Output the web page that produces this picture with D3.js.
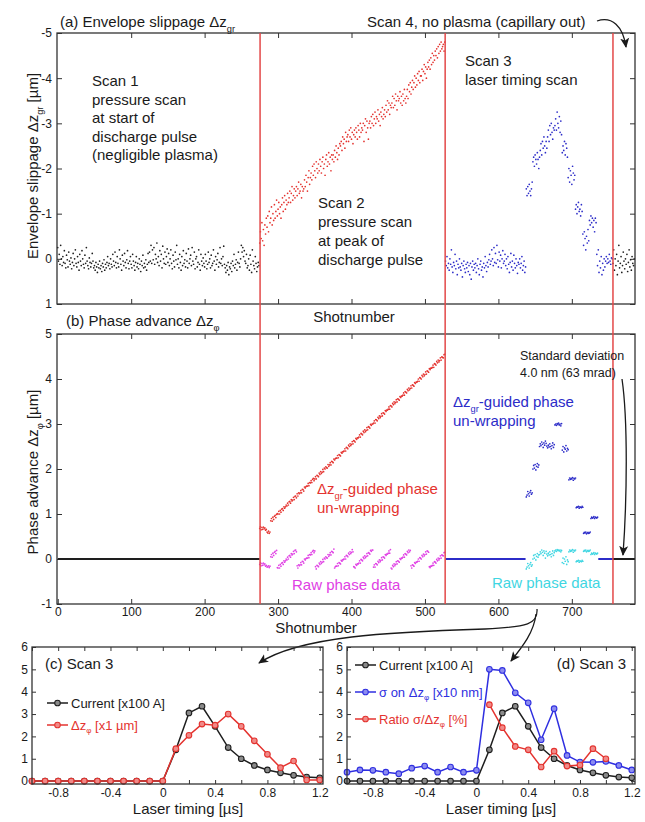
<!DOCTYPE html>
<html><head><meta charset="utf-8">
<script src="https://cdn.jsdelivr.net/npm/d3@7"></script>
<style>
body{margin:0;background:#fff}
text{font-family:"Liberation Sans",Arial,Helvetica,sans-serif;fill:#1a1a1a}
</style>
</head><body>
<svg id="chart" width="645" height="822"></svg>
<script>
// ---------------- DATA ----------------
// Panel (a): envelope slippage Δz_gr [µm], one value per shot
const scan1Start = 0;
const scan1Slippage = [-0.25,0.05,-0.1,0.12,-0.3,0.0,0.15,-0.05,0.08,-0.18,0.1,0.2,-0.08,0.02,0.18,-0.15,0.05,0.12,-0.02,0.22,0.08,-0.12,0.15,0.0,-0.2,
0.1,0.18,-0.05,0.08,0.25,-0.1,0.05,0.15,-0.18,0.0,0.12,0.2,-0.08,0.1,-0.25,0.05,0.15,0.22,-0.02,0.08,0.18,0.1,-0.12,0.05,0.2,
0.15,0.25,0.08,0.18,0.3,0.12,0.2,0.05,0.22,0.15,0.28,0.1,0.18,0.02,0.25,0.12,0.2,0.08,-0.05,0.15,0.1,0.22,0.0,0.12,0.18,
-0.1,0.05,0.15,-0.15,0.08,0.2,-0.05,0.1,0.18,-0.2,0.0,0.12,0.25,-0.08,0.05,0.15,-0.12,0.08,0.2,0.02,-0.18,0.1,0.22,0.05,-0.05,
0.12,0.2,-0.1,0.05,0.15,0.25,0.08,-0.05,0.18,0.1,0.22,0.0,0.12,0.28,0.05,0.15,-0.08,0.2,0.1,0.18,0.02,0.25,0.12,-0.12,0.08,
-0.15,0.05,-0.3,0.1,-0.2,0.02,-0.25,0.12,-0.1,0.0,-0.35,0.08,-0.05,0.15,-0.18,0.05,-0.1,0.2,-0.28,0.0,0.1,-0.15,0.12,-0.05,-0.22,
0.08,-0.12,0.15,0.0,-0.2,0.1,0.22,-0.08,0.05,0.18,-0.15,0.02,-0.3,0.12,0.0,0.2,-0.1,0.08,0.25,-0.05,0.15,-0.18,0.1,0.02,0.18,
-0.12,0.05,0.2,-0.22,0.1,0.0,-0.08,0.15,-0.25,0.05,0.12,-0.15,0.22,0.0,-0.05,0.18,0.08,-0.2,0.12,0.25,-0.1,0.05,0.15,-0.02,0.1,
0.18,-0.1,0.05,0.22,0.12,-0.15,0.08,0.0,0.2,-0.08,0.15,0.1,-0.2,0.05,0.25,-0.05,0.12,0.02,-0.12,0.18,0.08,-0.25,0.1,0.0,0.15,
-0.05,-0.28,0.12,0.2,0.3,0.15,0.25,0.08,0.35,0.18,0.22,0.1,0.28,0.05,0.15,-0.1,0.2,0.12,0.02,0.25,0.08,-0.15,0.1,0.18,0.0,
-0.3,-0.15,-0.25,-0.05,-0.18,0.05,0.1,-0.1,0.2,0.15,0.0,0.25,-0.08,0.12,0.3,-0.2,0.05,0.15,0.22,-0.05,0.1,0.28,0.18,0.08,0.15];
const scan2Start = 275;
const scan2Slippage = [-0.35,-0.6,-0.45,-0.8,-0.4,-0.65,-0.3,-0.75,-0.55,-0.9,
-0.7,-0.95,-0.6,-1.05,-0.8,-0.9,-1.15,-0.75,-1.0,-0.85,
-1.2,-0.9,-1.05,-1.3,-0.95,-1.1,-1.25,-1.0,-1.15,-0.9,
-1.2,-1.35,-1.05,-1.25,-1.4,-1.1,-1.3,-1.2,-1.45,-1.25,
-1.35,-1.5,-1.25,-1.45,-1.6,-1.3,-1.4,-1.55,-1.35,-1.5,
-1.6,-1.4,-1.55,-1.7,-1.45,-1.5,-1.65,-1.35,-1.6,-1.5,
-1.55,-1.75,-1.6,-1.85,-1.7,-1.5,-1.8,-1.95,-1.65,-1.8,
-1.9,-1.75,-2.05,-1.85,-2.1,-1.95,-1.8,-2.15,-2.0,-1.9,
-2.1,-1.95,-2.2,-2.05,-1.9,-2.15,-2.25,-2.0,-2.1,-1.85,
-2.2,-2.3,-2.05,-2.15,-2.35,-2.1,-2.25,-1.95,-2.3,-2.2,
-2.3,-2.15,-2.4,-2.25,-2.5,-2.35,-2.2,-2.45,-2.3,-2.55,
-2.5,-2.6,-2.4,-2.7,-2.55,-2.65,-2.45,-2.8,-2.6,-2.7,
-2.75,-2.6,-2.85,-2.7,-2.9,-2.65,-2.8,-2.55,-2.75,-2.85,
-2.7,-2.9,-2.8,-2.65,-2.95,-2.85,-2.7,-3.0,-2.8,-2.9,
-2.85,-3.0,-2.6,-2.95,-3.1,-2.8,-3.05,-2.9,-2.65,-3.0,
-3.05,-2.9,-3.15,-3.0,-3.2,-2.95,-3.1,-3.25,-3.0,-3.15,
-3.1,-3.3,-3.05,-3.2,-2.95,-3.25,-3.15,-3.35,-3.1,-3.2,
-3.3,-3.15,-3.4,-3.25,-3.5,-3.3,-3.45,-3.2,-3.4,-3.35,
-3.45,-3.6,-3.35,-3.55,-3.4,-3.65,-3.5,-3.3,-3.6,-3.5,
-3.55,-3.7,-3.45,-3.6,-3.4,-3.65,-3.5,-3.75,-3.55,-3.45,
-3.6,-3.75,-3.55,-3.85,-3.7,-3.9,-3.65,-3.8,-3.95,-3.75,
-3.9,-4.05,-3.8,-4.0,-3.85,-4.1,-3.95,-4.15,-3.9,-4.05,
-4.05,-4.2,-3.95,-4.15,-4.3,-4.1,-4.25,-4.0,-4.2,-4.35,
-4.25,-4.4,-4.2,-4.45,-4.3,-4.55,-4.35,-4.5,-4.4,-4.6,
-4.5,-4.65,-4.45,-4.7,-4.55,-4.75,-4.6,-4.8,-4.65,-4.7,
-4.75,-4.6,-4.8];
const scan3Start = 528;
const scan3Slippage = [0.05,0.15,-0.05,0.2,0.1,0.25,0.0,0.12,-0.2,0.18,0.3,0.08,0.15,-0.1,0.22,0.05,0.35,0.12,0.2,0.0,
0.18,0.25,0.1,0.4,0.15,0.05,0.22,0.3,0.12,0.2,0.08,0.28,0.15,0.35,0.1,0.45,0.18,0.05,0.25,0.12,
0.2,0.1,0.3,0.15,0.0,0.22,0.35,0.12,0.05,0.25,0.18,0.4,0.1,0.2,-0.05,0.15,0.28,0.08,0.18,0.02,
-0.1,0.12,0.05,-0.2,0.0,0.15,-0.25,0.08,-0.12,0.1,-0.3,0.02,0.18,-0.15,0.05,-0.08,0.2,0.0,-0.18,0.1,
0.05,-0.1,0.15,0.0,0.22,-0.05,0.12,0.3,0.08,-0.12,0.18,0.05,0.25,-0.08,0.1,0.2,0.0,0.15,0.32,0.08,
0.12,0.0,0.2,0.1,-0.05,0.25,0.15,0.05,0.3,0.18,
-1.55,-1.4,-1.6,-1.45,-1.65,-1.5,-1.4,-1.55,-1.7,
-2.15,-2.25,-2.05,-2.3,-2.2,-2.1,-2.35,-2.2,-2.0,-2.25,
-2.4,-2.55,-2.3,-2.6,-2.45,-2.7,-2.5,-2.35,-2.6,-2.45,
-2.7,-2.85,-2.6,-2.95,-2.75,-3.0,-2.8,-2.65,-2.9,-2.85,
-2.95,-3.1,-2.85,-3.25,-3.0,-2.9,-3.15,-2.8,-3.05,-2.75,
-2.35,-2.5,-2.4,-2.6,-2.3,-2.55,-2.45,-2.25,
-1.8,-2.0,-1.7,-1.95,-1.85,-1.65,-2.05,-1.9,-1.75,-1.85,
-1.1,-1.2,-1.0,-1.15,-1.25,-1.05,-1.1,-0.95,-1.2,-1.05,
-0.55,-0.3,-0.6,-0.45,-0.2,-0.5,-0.35,-0.65,-0.4,
-0.85,-0.75,-0.95,-0.8,-0.9,-0.7,-0.85,-0.6,-0.9,-0.8,
-0.1,0.15,-0.2,0.3,0.05,0.2,-0.05,0.35,0.1,0.25,0.0,0.18,
0.05,-0.05,0.1,0.0,0.08,-0.1,0.05,0.12,-0.02,0.0];
const scan4Start = 756;
const scan4Slippage = [0.1,-0.2,0.25,0.0,0.15,-0.1,0.35,0.05,-0.3,0.2,0.1,-0.05,0.3,0.15,-0.15,0.05,0.22,0.0,0.12,-0.1,0.28,0.08,-0.2,0.18,0.02,0.25,-0.05,0.1,0.15,0.0];

// Panel (b): phase advance Δz_φ [µm]
const scan1PhaseShots = [0, 275];
const scan1PhaseVals = [0.0, 0.0];
const scan2PhaseStart = 275;
const scan2PhaseUnwrapped = [0.68,0.72,0.65,0.7,0.66,0.71,0.67,0.69,0.64,0.66,0.6,0.58,0.62,0.57,0.6,
0.85,0.9,0.84,0.93,0.88,0.95,0.97,0.92,0.99,1.01,
1.0,1.06,1.0,1.08,1.04,1.11,1.12,1.08,1.16,1.13,
1.16,1.2,1.18,1.24,1.2,1.27,1.28,1.24,1.32,1.29,
1.31,1.37,1.32,1.39,1.4,1.36,1.45,1.4,1.47,1.45,
1.47,1.52,1.47,1.55,1.54,1.51,1.6,1.58,1.61,1.62,
1.62,1.68,1.63,1.7,1.69,1.74,1.7,1.77,1.79,1.74,
1.78,1.83,1.78,1.86,1.85,1.83,1.91,1.88,1.94,1.9,
1.93,1.99,1.94,2.02,2.0,2.05,2.03,2.02,2.1,2.06,
2.09,2.14,2.09,2.17,2.16,2.14,2.22,2.2,2.23,2.24,
2.24,2.3,2.25,2.32,2.31,2.29,2.37,2.35,2.38,2.39,
2.4,2.45,2.4,2.48,2.47,2.45,2.53,2.5,2.56,2.52,
2.55,2.61,2.56,2.63,2.62,2.6,2.68,2.66,2.69,2.69,
2.71,2.76,2.71,2.79,2.78,2.76,2.84,2.81,2.87,2.83,
2.86,2.92,2.87,2.94,2.93,2.91,2.99,2.97,3.0,3.0,
3.02,3.07,3.02,3.1,3.09,3.07,3.15,3.12,3.18,3.14,
3.17,3.23,3.18,3.25,3.24,3.22,3.3,3.28,3.31,3.31,
3.33,3.38,3.33,3.41,3.4,3.38,3.46,3.43,3.49,3.45,
3.48,3.54,3.49,3.56,3.55,3.53,3.61,3.59,3.62,3.62,
3.64,3.69,3.64,3.72,3.71,3.69,3.77,3.74,3.8,3.76,
3.79,3.85,3.8,3.87,3.86,3.84,3.92,3.9,3.93,3.93,
3.95,4.0,3.95,4.03,4.02,4.0,4.08,4.05,4.11,4.07,
4.1,4.16,4.11,4.18,4.17,4.15,4.23,4.21,4.24,4.24,
4.26,4.31,4.26,4.34,4.33,4.31,4.39,4.36,4.42,4.38,
4.41,4.47,4.42,4.49,4.48,4.47,4.54,4.55];
const scan2PhaseRaw = [-0.12,-0.08,-0.15,-0.1,-0.14,-0.09,-0.13,-0.11,-0.16,-0.14,-0.18,-0.17,-0.15,-0.19,-0.16,
0.05,0.1,0.04,0.13,0.08,0.15,0.17,0.12,0.19,-0.19,
-0.2,-0.14,-0.2,-0.12,-0.16,-0.09,-0.08,-0.12,-0.04,-0.07,
-0.04,0.0,-0.02,0.04,0.0,0.07,0.08,0.04,0.12,0.09,
0.11,0.17,0.12,0.19,0.2,0.16,-0.15,-0.2,-0.13,-0.15,
-0.13,-0.08,-0.13,-0.05,-0.06,-0.09,0.0,-0.02,0.01,0.02,
0.02,0.08,0.03,0.1,0.09,0.14,0.1,0.17,0.19,0.14,
0.18,-0.17,-0.22,-0.14,-0.15,-0.17,-0.09,-0.12,-0.06,-0.1,
-0.07,-0.01,-0.06,0.02,0.0,0.05,0.03,0.02,0.1,0.06,
0.09,0.14,0.09,0.17,0.16,0.14,0.22,-0.2,-0.17,-0.16,
-0.16,-0.1,-0.15,-0.08,-0.09,-0.11,-0.03,-0.05,-0.02,-0.01,
0.0,0.05,0.0,0.08,0.07,0.05,0.13,0.1,0.16,0.12,
0.15,0.21,0.16,-0.17,-0.18,-0.2,-0.12,-0.14,-0.11,-0.11,
-0.09,-0.04,-0.09,-0.01,-0.02,-0.04,0.04,0.01,0.07,0.03,
0.06,0.12,0.07,0.14,0.13,0.11,0.19,0.17,0.2,0.2,
-0.18,-0.13,-0.18,-0.1,-0.11,-0.13,-0.05,-0.08,-0.02,-0.06,
-0.03,0.03,-0.02,0.05,0.04,0.02,0.1,0.08,0.11,0.11,
0.13,0.18,0.13,0.21,-0.2,-0.22,-0.14,-0.17,-0.11,-0.15,
-0.12,-0.06,-0.11,-0.04,-0.05,-0.07,0.01,-0.01,0.02,0.02,
0.04,0.09,0.04,0.12,0.11,0.09,0.17,0.14,0.2,0.16,
0.19,-0.15,-0.2,-0.13,-0.14,-0.16,-0.08,-0.1,-0.07,-0.07,
-0.05,0.0,-0.05,0.03,0.02,0.0,0.08,0.05,0.11,0.07,
0.1,0.16,0.11,0.18,0.17,0.15,-0.17,-0.19,-0.16,-0.16,
-0.14,-0.09,-0.14,-0.06,-0.07,-0.09,-0.01,-0.04,0.02,-0.02,
0.01,0.07,0.02,0.09,0.08,0.07,0.14,0.15];
const scan3FlatShots = [528, 637];
const scan3FlatVals = [0.0, 0.0];
const scan3ClusterStart = 638;
const scan3PhaseUnwrapped = [1.38,1.42,1.5,1.45,1.4,1.48,1.52,1.44,1.47,
2.0,2.08,2.02,2.1,1.98,2.06,2.12,2.04,2.09,
2.5,2.56,2.52,2.6,2.55,2.48,2.58,2.53,2.62,2.57,2.51,
2.47,2.53,2.49,2.56,2.5,2.45,2.52,2.58,2.48,2.54,
2.98,3.0,2.97,3.01,2.99,3.02,2.98,3.0,2.96,3.01,
2.42,2.5,2.38,2.47,2.44,2.52,2.4,2.46,2.43,
1.76,1.8,1.77,1.79,1.78,1.81,1.75,1.79,1.78,1.8,
1.14,1.16,1.15,1.17,1.13,1.16,1.15,1.14,1.17,1.15,
0.57,0.59,0.58,0.6,0.56,0.58,0.59,0.57,0.58,0.6,
0.9,0.93,0.91,0.92,0.94,0.9,0.93,0.92,0.91,0.93];
const scan3PhaseRaw = [-0.22,-0.18,-0.1,-0.15,-0.2,-0.12,-0.08,-0.16,-0.13,
0.0,0.08,0.02,0.1,-0.02,0.06,0.12,0.04,0.09,
0.1,0.16,0.12,0.2,0.15,0.08,0.18,0.13,0.02,0.17,0.11,
0.07,0.13,0.09,0.16,0.1,0.05,0.12,0.18,0.08,0.14,
0.18,0.2,0.17,0.21,0.19,0.2,0.18,0.2,0.16,0.19,
-0.08,0.02,-0.1,0.0,-0.05,0.05,-0.12,-0.02,-0.06,
0.16,0.2,0.17,0.19,0.18,0.21,0.15,0.19,0.18,0.2,
-0.06,-0.04,-0.05,-0.03,-0.07,-0.04,-0.05,-0.06,-0.03,-0.05,
0.17,0.19,0.18,0.2,0.16,0.18,0.19,0.17,0.18,0.2,
0.1,0.13,0.11,0.12,0.14,0.1,0.13,0.12,0.11,0.13];
const scan3TailShots = [736, 756];
const scan3TailVals = [0.0, 0.0];
const scan4PhaseShots = [756, 786];
const scan4PhaseVals = [0.0, 0.0];
const scanBoundaries = [275.5, 527.5, 756];
const shotTicks = [0,100,200,300,400,500,600,700];
const slippageTicks = [-5,-4,-3,-2,-1,0,1];
const phaseTicks = [-1,0,1,2,3,4,5];

// Panels (c), (d): Scan 3 vs laser timing [µs]
const timing = [-1.0,-0.9,-0.8,-0.7,-0.6,-0.5,-0.4,-0.3,-0.2,-0.1,0.0,0.1,0.2,0.3,0.4,0.5,0.6,0.7,0.8,0.9,1.0,1.1,1.2];
const current100A = [0,0,0,0,0,0,0,0,0,0,0,1.4,3.05,3.35,2.45,1.5,1.0,0.7,0.5,0.37,0.26,0.18,0.15];
const phaseAdvance1um = [0,0,0,0,0,0,0,0,0,0,0,1.45,2.05,2.55,2.5,3.0,2.45,1.8,1.2,0.6,0.9,0.05,0.05];
const sigma10nm = [0.4,0.5,0.48,0.4,0.33,0.58,0.67,0.4,0.63,0.4,0.48,5.0,4.95,3.95,3.5,1.85,3.24,1.15,0.85,0.84,0.88,0.7,0.5];
const ratioTiming = [0.1,0.2,0.3,0.4,0.5,0.6,0.7,0.8,0.9,1.0];
const ratioPercent = [3.42,2.39,1.55,1.4,0.63,1.34,0.67,0.72,1.45,1.0];
const timingTicks = [-1.0,-0.8,-0.6,-0.4,-0.2,0,0.2,0.4,0.6,0.8,1.0,1.2];
const countTicks = [0,1,2,3,4,5,6];

// ---------------- DRAWING ----------------
const svg = d3.select('#chart');
const C = {black:'#1e1e1e', red:'#e4332f', scanLine:'#e34848', blue:'#2c2cc8', magenta:'#e040e4', cyan:'#3fd6e2', frame:'#333'};

const defs = svg.append('defs');
defs.append('marker').attr('id','arr').attr('viewBox','0 0 10 10').attr('refX',9).attr('refY',5)
  .attr('markerWidth',10).attr('markerHeight',10).attr('markerUnits','userSpaceOnUse').attr('orient','auto')
  .append('path').attr('d','M0,0.5 L10,5 L0,9.5 L2.5,5 Z').attr('fill','#1a1a1a');

const xShot = d3.scaleLinear().domain([-1, 786]).range([57, 635]);
const yA = d3.scaleLinear().domain([-5, 1]).range([33, 304]);
const yB = d3.scaleLinear().domain([-1, 5]).range([604, 334]);

function styleAxis(g, fs){
  g.select('.domain').remove();
  g.selectAll('.tick line').attr('stroke', C.frame).attr('stroke-width',1);
  g.selectAll('.tick text').attr('font-size', fs).attr('fill','#1a1a1a')
    .attr('font-family','"Liberation Sans",Arial,sans-serif');
}
function frame(x0,y0,x1,y1){
  svg.append('rect').attr('x',x0).attr('y',y0).attr('width',x1-x0).attr('height',y1-y0)
    .attr('fill','none').attr('stroke',C.frame).attr('stroke-width',1.3);
}
// rich text: parts = [[string, isSub]]
function rich(x, y, parts, opts={}){
  const fs = opts.size || 15;
  const t = svg.append('text').attr('x',x).attr('y',y).attr('font-size',fs)
    .attr('text-anchor',opts.anchor||'start').style('fill',opts.color||'#1a1a1a');
  if(opts.rotate) t.attr('transform',`rotate(-90,${x},${y})`);
  let sub=false;
  parts.forEach(([s,isSub])=>{
    const sp = t.append('tspan').text(s);
    if(isSub && !sub){ sp.attr('font-size',fs*0.62).attr('dy',fs*0.3); sub=true; }
    else if(!isSub && sub){ sp.attr('dy',-fs*0.3); sub=false; }
  });
  return t;
}

// ---- Panel (a) ----
const gA = svg.append('g');
gA.append('g').attr('transform','translate(57,0)')
  .call(d3.axisLeft(yA).tickValues(slippageTicks).tickSize(-5).tickPadding(5).tickFormat(d=>String(d)))
  .call(g=>styleAxis(g,12));
gA.append('g').attr('transform','translate(635,0)')
  .call(d3.axisRight(yA).tickValues(slippageTicks).tickSize(-5).tickFormat(''))
  .call(g=>styleAxis(g,12));
gA.append('g').attr('transform','translate(0,33)')
  .call(d3.axisTop(xShot).tickValues(shotTicks.slice(1)).tickSize(-5).tickFormat(''))
  .call(g=>styleAxis(g,12));
gA.append('g').attr('transform','translate(0,304)')
  .call(d3.axisBottom(xShot).tickValues(shotTicks.slice(1)).tickSize(-5).tickFormat(''))
  .call(g=>styleAxis(g,12));

function dots(g, start, vals, y, color, r){
  g.append('g').selectAll('circle').data(vals).join('circle')
    .attr('cx',(d,i)=>xShot(start+i)).attr('cy',d=>y(d)).attr('r',r).attr('fill',color);
}
dots(gA, scan1Start, scan1Slippage, yA, C.black, 0.85);
dots(gA, scan2Start, scan2Slippage, yA, C.red, 0.85);
dots(gA, scan3Start, scan3Slippage, yA, C.blue, 0.85);
dots(gA, scan4Start, scan4Slippage, yA, C.black, 0.85);
frame(57,33,635,304);

// ---- Panel (b) ----
const gB = svg.append('g');
gB.append('g').attr('transform','translate(57,0)')
  .call(d3.axisLeft(yB).tickValues(phaseTicks).tickSize(-5).tickPadding(5).tickFormat(d=>String(d)))
  .call(g=>styleAxis(g,12));
gB.append('g').attr('transform','translate(635,0)')
  .call(d3.axisRight(yB).tickValues(phaseTicks).tickSize(-5).tickFormat(''))
  .call(g=>styleAxis(g,12));
gB.append('g').attr('transform','translate(0,334)')
  .call(d3.axisTop(xShot).tickValues(shotTicks.slice(1)).tickSize(-5).tickFormat(''))
  .call(g=>styleAxis(g,12));
gB.append('g').attr('transform','translate(0,604)')
  .call(d3.axisBottom(xShot).tickValues(shotTicks).tickSize(-5).tickPadding(3).tickFormat(d=>String(d)))
  .call(g=>styleAxis(g,12));

const lineB = (shots)=> d3.line().x((d,i)=>xShot(shots[i])).y(d=>yB(d));
function segLine(shots, vals, color){
  gB.append('path').datum(vals).attr('d', lineB(shots)).attr('fill','none').attr('stroke',color).attr('stroke-width',2);
}
segLine(scan1PhaseShots, scan1PhaseVals, C.black);
segLine(scan3FlatShots, scan3FlatVals, C.blue);
segLine(scan3TailShots, scan3TailVals, C.blue);
segLine(scan4PhaseShots, scan4PhaseVals, C.black);
dots(gB, scan2PhaseStart, scan2PhaseRaw, yB, C.magenta, 0.85);
dots(gB, scan2PhaseStart, scan2PhaseUnwrapped, yB, C.red, 0.85);
dots(gB, scan3ClusterStart, scan3PhaseRaw, yB, C.cyan, 0.85);
dots(gB, scan3ClusterStart, scan3PhaseUnwrapped, yB, C.blue, 0.85);
frame(57,334,635,604);

// scan boundary lines spanning (a) and (b)
svg.append('g').selectAll('line').data(scanBoundaries).join('line')
  .attr('x1',d=>xShot(d)).attr('x2',d=>xShot(d)).attr('y1',33).attr('y2',604)
  .attr('stroke',C.scanLine).attr('stroke-width',1.5);

// ---- Panel texts (a)/(b) ----
rich(60, 27, [['(a) Envelope slippage Δz'],['gr',true]], {size:15});
rich(38, 166, [['Envelope slippage Δz'],['gr',true],[' [µm]']], {size:15, anchor:'middle', rotate:true});
[['Scan 1',86],['pressure scan',104.5],['at start of',123],['discharge pulse',141.5],['(negligible plasma)',160]]
  .forEach(([s,y])=>rich(92,y,[[s]],{size:15}));
[['Scan 2',208],['pressure scan',227],['at peak of',246],['discharge pulse',265]]
  .forEach(([s,y])=>rich(318,y,[[s]],{size:15}));
rich(465, 66, [['Scan 3']], {size:15});
rich(465, 85, [['laser timing scan']], {size:15});
rich(367, 27, [['Scan 4, no plasma (capillary out)']], {size:15});
rich(354, 322, [['Shotnumber']], {size:15, anchor:'middle'});

rich(66, 326, [['(b) Phase advance Δz'],['φ',true]], {size:15});
rich(38, 472, [['Phase advance Δz'],['φ',true],[' [µm]']], {size:15, anchor:'middle', rotate:true});
rich(317, 494, [['Δz'],['gr',true],['-guided phase']], {size:15, color:C.red});
rich(317, 513, [['un-wrapping']], {size:15, color:C.red});
rich(292, 590, [['Raw phase data']], {size:15, color:C.magenta});
rich(453, 407, [['Δz'],['gr',true],['-guided phase']], {size:15, color:C.blue});
rich(453, 426, [['un-wrapping']], {size:15, color:C.blue});
rich(492, 588, [['Raw phase data']], {size:15, color:C.cyan});
rich(520, 360, [['Standard deviation']], {size:12.5});
rich(520, 377, [['4.0 nm (63 mrad)']], {size:12.5});
rich(316, 633, [['Shotnumber']], {size:15, anchor:'middle'});

// arrows
const arrows = [
  'M597,21 C612,16 623,26 626,47',
  'M622,379 C628,420 627,500 623,555',
  'M537,609 C538,624 528,627 485,629 C390,632 300,636 259,663',
  'M536,614 C534,632 523,646 511,661'
];
svg.append('g').selectAll('path').data(arrows).join('path')
  .attr('d',d=>d).attr('fill','none').attr('stroke','#1a1a1a').attr('stroke-width',1.3)
  .attr('marker-end','url(#arr)');

// ---- Panels (c) and (d) ----
const yCD = d3.scaleLinear().domain([-0.13, 6]).range([784, 647]);
function timePanel(x0, x1){
  const x = d3.scaleLinear().domain([-1.0, 1.225]).range([x0, x1]);
  const g = svg.append('g');
  const lab = d=> (Math.abs(Math.round(d*10)%4)===0 && d>-0.95) ? String(+d.toFixed(1)) : '';
  g.append('g').attr('transform',`translate(0,784)`)
    .call(d3.axisBottom(x).tickValues(timingTicks).tickSize(-4).tickPadding(4).tickFormat(lab))
    .call(gg=>styleAxis(gg,12));
  g.append('g').attr('transform',`translate(0,647)`)
    .call(d3.axisTop(x).tickValues(timingTicks).tickSize(-4).tickFormat(''))
    .call(gg=>styleAxis(gg,12));
  g.append('g').attr('transform',`translate(${x0},0)`)
    .call(d3.axisLeft(yCD).tickValues(countTicks).tickSize(-4).tickPadding(4).tickFormat(d=>String(d)))
    .call(gg=>styleAxis(gg,12));
  g.append('g').attr('transform',`translate(${x1},0)`)
    .call(d3.axisRight(yCD).tickValues(countTicks).tickSize(-4).tickFormat(''))
    .call(gg=>styleAxis(gg,12));
  return {x, g};
}
function series(p, xs, ys, stroke, fill){
  const line = d3.line().x((d,i)=>p.x(xs[i])).y(d=>yCD(d));
  p.g.append('path').datum(ys).attr('d',line).attr('fill','none').attr('stroke',stroke).attr('stroke-width',1.5);
  p.g.append('g').selectAll('circle').data(ys).join('circle')
    .attr('cx',(d,i)=>p.x(xs[i])).attr('cy',d=>yCD(d)).attr('r',2.8)
    .attr('fill',fill).attr('stroke',stroke).attr('stroke-width',1.1);
}
function legendItem(x0, x1, y, stroke, fill, parts, tx, fs){
  svg.append('line').attr('x1',x0).attr('x2',x1).attr('y1',y).attr('y2',y).attr('stroke',stroke).attr('stroke-width',1.5);
  svg.append('circle').attr('cx',(x0+x1)/2).attr('cy',y).attr('r',2.8).attr('fill',fill).attr('stroke',stroke).attr('stroke-width',1.1);
  rich(tx, y+4.5, parts, {size:fs, color:stroke==='#1e1e1e'?'#1a1a1a':stroke});
}

const pC = timePanel(32, 323);
series(pC, timing, current100A, C.black, '#8a8a8a');
series(pC, timing, phaseAdvance1um, C.red, '#f08a88');
frame(32,647,323,784);
rich(45, 669, [['(c) Scan 3']], {size:15});
legendItem(47, 68, 703, C.black, '#8a8a8a', [['Current [x100 A]']], 71, 13);
legendItem(47, 68, 725, C.red, '#f08a88', [['Δz'],['φ',true],[' [x1 µm]']], 71, 13);
rich(188, 814, [['Laser timing [µs]']], {size:15, anchor:'middle'});

const pD = timePanel(347, 635);
series(pD, timing, current100A, C.black, '#8a8a8a');
series(pD, timing, sigma10nm, '#2f2fe0', '#8c8cf0');
series(pD, ratioTiming, ratioPercent, C.red, '#f08a88');
frame(347,647,635,784);
rich(626, 669, [['(d) Scan 3']], {size:15, anchor:'end'});
legendItem(355, 376, 665, C.black, '#8a8a8a', [['Current [x100 A]']], 379, 13);
legendItem(355, 376, 692, '#2f2fe0', '#8c8cf0', [['σ on Δz'],['φ',true],[' [x10 nm]']], 379, 13);
legendItem(355, 376, 719, C.red, '#f08a88', [['Ratio σ/Δz'],['φ',true],[' [%]']], 379, 13);
rich(501, 814, [['Laser timing [µs]']], {size:15, anchor:'middle'});
</script>
</body></html>
